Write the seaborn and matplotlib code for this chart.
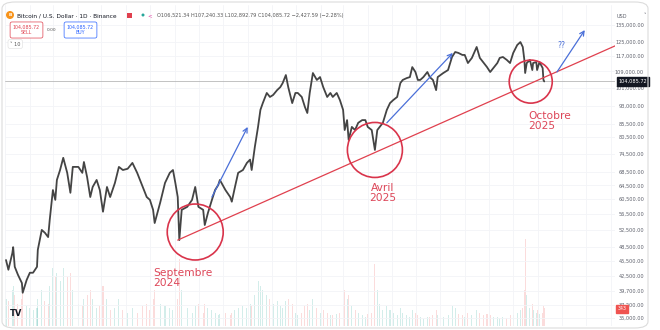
import numpy as np
import pandas as pd
import matplotlib
matplotlib.use("Agg")
import matplotlib.pyplot as plt
import matplotlib.dates as mdates
from matplotlib.patches import FancyBboxPatch, Ellipse, Rectangle
from matplotlib.ticker import NullLocator
import seaborn as sns

# ---------------- data ----------------
start_date = "2024-01-02"
day = [0, 3, 8, 9, 11, 15, 20, 21, 26, 30, 34, 39, 40, 45, 49, 53, 55, 59, 62, 64,
       68, 72, 77, 81, 84, 91, 96, 98, 102, 106, 109, 114, 118, 122, 127, 131, 137, 142, 147, 153,
       159, 165, 172, 177, 181, 185, 187, 194, 200, 206, 210, 213, 216, 218, 221, 228, 234, 238, 242, 248,
       250, 254, 259, 263, 267, 269, 276, 282, 284, 288, 292, 298, 303, 307, 309, 313, 317, 320, 323, 328,
       332, 336, 341, 345, 348, 352, 355, 360, 364, 367, 372, 376, 379, 382, 386, 391, 395, 399, 404, 408,
       411, 416, 420, 424, 426, 429, 431, 435, 439, 443, 448, 452, 455, 460, 464, 467, 470, 474, 479, 483,
       487, 492, 496, 499, 504, 508, 511, 515, 518, 521, 525, 530, 533, 537, 541, 543, 550, 556, 561, 565,
       569, 574, 577, 581, 586, 592, 596, 600, 605, 609, 613, 618, 621, 625, 630, 634, 638, 643, 647, 650,
       652, 653, 655, 659, 662, 663, 667, 668, 671, 675, 676, 677]
close = [45700, 43700, 47200, 48500, 44300, 42700, 41100, 39300, 41700, 43100, 43100, 44300, 47900, 52500, 51800, 50800, 55000, 63100, 60300, 66100,
         69200, 73200, 68300, 62300, 70200, 70200, 68300, 71800, 67000, 61100, 64000, 66100, 63100, 57100, 64000, 61100, 65200, 70200, 69200, 69600,
         71500, 68300, 64000, 61100, 60300, 57600, 54200, 59600, 65200, 68300, 69200, 65200, 61100, 50100, 57600, 58400, 60300, 64000, 58400, 57600,
         53700, 56800, 60300, 63100, 64600, 66100, 63100, 61100, 59800, 64000, 68300, 69200, 71500, 72600, 69200, 77000, 84400, 91300, 94200, 98700,
         96900, 97800, 100000, 101400, 103300, 107200, 101400, 94200, 98700, 98700, 96900, 92500, 90000, 98700, 108200, 104800, 106200, 101400, 96900, 98700,
         96900, 98700, 95500, 91300, 83200, 87100, 79500, 84400, 83200, 86000, 87100, 87100, 84400, 83200, 75900, 83200, 84400, 86000, 91300, 94200,
         95500, 96900, 103300, 104800, 105700, 106200, 111200, 108700, 104800, 104800, 106200, 108700, 106200, 104800, 100000, 106200, 108200, 109700, 116500, 119200,
         118700, 117600, 117600, 113300, 116000, 122000, 116000, 113800, 111200, 108700, 110700, 113300, 116000, 116500, 114900, 113300, 118700, 123100, 124800, 122000,
         114900, 108200, 113300, 114900, 109700, 113300, 113800, 109700, 113800, 110700, 104800, 104085.72]
volume = [30, 28, 40, 45, 35, 25, 30, 38, 22, 20, 18, 20, 30, 40, 28, 25, 45, 65, 55, 60,
          50, 65, 55, 60, 40, 25, 22, 30, 35, 40, 30, 20, 22, 45, 30, 18, 20, 30, 18, 15,
          20, 15, 22, 25, 18, 30, 40, 25, 22, 20, 18, 22, 30, 75, 40, 20, 15, 22, 25, 15,
          25, 20, 18, 15, 12, 14, 15, 12, 15, 18, 20, 22, 20, 25, 22, 35, 50, 45, 40, 35,
          30, 25, 28, 22, 20, 28, 30, 25, 15, 12, 15, 22, 25, 18, 30, 20, 15, 18, 15, 12,
          12, 14, 15, 25, 40, 30, 35, 22, 18, 15, 12, 10, 14, 15, 70, 40, 25, 18, 22, 18,
          15, 12, 20, 15, 12, 10, 18, 15, 12, 10, 8, 10, 10, 12, 18, 12, 10, 12, 22, 20,
          14, 12, 10, 15, 12, 18, 15, 12, 14, 12, 10, 10, 9, 10, 9, 12, 12, 15, 18, 20,
          40, 98, 35, 20, 25, 18, 15, 18, 14, 15, 22, 20]

price_ticks = [135000, 125000, 117000, 109000, 101000, 93000, 85500, 80500, 74500, 68500,
               64500, 60500, 56500, 52500, 48500, 45500, 42500, 39700, 37200, 35000]
last_price = 104085.72
last_volume_label = "343"

trend_days = [216, 766]
trend_prices = [50100, 122600]

circle_days = [238, 464, 660]
circle_prices = [52000, 75900, 104000]

arrow_days = [(259, 304), (479, 562), (693, 728)]
arrow_prices = [(61100, 84400), (86000, 118700), (108700, 131900)]

labels_text = ["Septembre\n2024", "Avril\n2025", "Octobre\n2025"]
label_days = [185, 474, 657]
label_prices = [44050, 65200, 90800]

title_text = "Bitcoin / U.S. Dollar · 1D · Binance"
ohlc_text = "O106,521.34 H107,240.33 L102,892.79 C104,085.72 \u22122,427.59 (\u22122.28%)"

# ---------------- style ----------------
sns.set_theme(style="white")
plt.rcParams["font.family"] = ["DejaVu Sans"]

W, H = 660, 330
fig = plt.figure(figsize=(W / 100, H / 100), dpi=100)
fig.patch.set_facecolor("white")


def fx(px):
    return px / W


def fy(py):
    return 1 - py / H


ax_left, ax_right, ax_top, ax_bottom = 5, 615, 5, 326
ax = fig.add_axes([fx(ax_left), fy(ax_bottom), fx(ax_right - ax_left), (ax_bottom - ax_top) / H])

t0 = pd.Timestamp(start_date)
df = pd.DataFrame({
    "date": t0 + pd.to_timedelta(day, unit="D"),
    "close": close,
    "volume": volume,
})
up = np.r_[True, np.diff(df["close"].values) >= 0]
vol_colors = np.where(up, "#26a69a", "#ef5350")

# volume on twin axis (behind)
ax2 = ax.twinx()
ax2.bar(df["date"], df["volume"], width=1.3, color=vol_colors, alpha=0.2, linewidth=0)
ax2.set_ylim(0, 360)
ax2.axis("off")
ax.set_zorder(ax2.get_zorder() + 1)
ax.patch.set_visible(False)

# price
sns.lineplot(data=df, x="date", y="close", ax=ax, color="#444444", linewidth=1.3)
ax.set_yscale("log")
ax.set_ylim(33720, 148040)
ax.set_xlim(t0 - pd.Timedelta(days=1.26), t0 + pd.Timedelta(days=766))
ax.set_xlabel("")
ax.set_ylabel("")
for s in ax.spines.values():
    s.set_visible(False)

ax.yaxis.set_minor_locator(NullLocator())
ax.set_yticks(price_ticks)
ax.set_yticklabels([f"{v:,.2f}" for v in price_ticks])
ax.yaxis.tick_right()
ax.tick_params(axis="y", length=0, pad=20.9, labelsize=3.6, labelcolor="#5d606b")
for lbl in ax.get_yticklabels():
    lbl.set_ha("right")
ax.xaxis.set_major_locator(mdates.MonthLocator())
ax.tick_params(axis="x", length=0, labelbottom=False)
ax.grid(True, color="#f3f4f7", linewidth=0.6)
ax.set_axisbelow(True)

# last price line & label
ax.axhline(last_price, color="#b8b8b8", linewidth=0.6, zorder=1)
ax.annotate(f"{last_price:,.2f}", xy=(1, last_price), xycoords=("axes fraction", "data"),
            xytext=(2.5, 0), textcoords="offset points", ha="left", va="center",
            fontsize=3.6, color="white", annotation_clip=False, zorder=10,
            bbox=dict(boxstyle="square,pad=0.35", fc="#131722", ec="#131722"))

# trend line
trend_dates = t0 + pd.to_timedelta(trend_days, unit="D")
ax.plot(trend_dates, trend_prices, color="#e0404e", linewidth=0.9, zorder=4)

# circles (sizes in points^2)
circle_dates = t0 + pd.to_timedelta(circle_days, unit="D")
ax.scatter(circle_dates, circle_prices, s=[1624, 1568, 960], facecolors="none",
           edgecolors="#d9344b", linewidths=1.2, zorder=5)

# arrows
for (d0, d1), (p0, p1) in zip(arrow_days, arrow_prices):
    ax.annotate("", xy=(t0 + pd.Timedelta(days=d1), p1), xytext=(t0 + pd.Timedelta(days=d0), p0),
                arrowprops=dict(arrowstyle="->", color="#4a6fd8", lw=0.9, mutation_scale=8,
                                shrinkA=0, shrinkB=0), zorder=6)
ax.text(t0 + pd.Timedelta(days=694), 123100, "??", fontsize=5.5, color="#4a6fd8",
        ha="left", va="center")

# labels
aligns = ["left", "center", "left"]
for txt, d, p, a in zip(labels_text, label_days, label_prices, aligns):
    ax.text(t0 + pd.Timedelta(days=d), p, txt, fontsize=7.7, color="#dd4658",
            ha=a, va="top", multialignment=a, linespacing=1.0, zorder=7)

# ---------------- header / chrome ----------------
fig.patches.append(FancyBboxPatch((fx(2), fy(328)), fx(646), (326) / H,
                                  boxstyle="round,pad=0,rounding_size=0.02",
                                  transform=fig.transFigure, fc="none", ec="#dcdcdc", lw=0.8))
fig.patches.append(Ellipse((fx(10), fy(15)), fx(8), 8 / H, transform=fig.transFigure,
                           fc="#f7931a", ec="none"))
fig.text(fx(10), fy(15), "B", fontsize=3.2, color="white", ha="center", va="center", weight="bold")
fig.text(fx(17), fy(15.5), title_text, fontsize=4.2, color="#131722", ha="left", va="center")
fig.patches.append(Rectangle((fx(127), fy(18)), fx(5), 5 / H, transform=fig.transFigure,
                             fc="#e0404e", ec="none"))
fig.patches.append(Ellipse((fx(143), fy(15)), fx(3), 3 / H, transform=fig.transFigure,
                           fc="#26a69a", ec="none"))
fig.text(fx(150), fy(15.5), "<", fontsize=4, color="#e040a0", ha="center", va="center")
fig.text(fx(157), fy(15.5), ohlc_text, fontsize=3.6, color="#555555", ha="left", va="center")

fig.text(fx(26.5), fy(30), f"{last_price:,.2f}\nSELL", fontsize=3.4, color="#e0404e",
         ha="center", va="center", linespacing=1.1,
         bbox=dict(boxstyle="round,pad=0.6,rounding_size=0.4", fc="white", ec="#e0404e", lw=0.5))
fig.text(fx(52), fy(30), "0.00", fontsize=3.2, color="#555555", ha="center", va="center")
fig.text(fx(80.5), fy(30), f"{last_price:,.2f}\nBUY", fontsize=3.4, color="#2962ff",
         ha="center", va="center", linespacing=1.1,
         bbox=dict(boxstyle="round,pad=0.6,rounding_size=0.4", fc="white", ec="#2962ff", lw=0.5))
fig.text(fx(10), fy(44), "\u02c5 10", fontsize=3.6, color="#555555", ha="left", va="center",
         bbox=dict(boxstyle="round,pad=0.4", fc="white", ec="#dddddd", lw=0.4))

fig.text(fx(617), fy(16), "USD", fontsize=3.6, color="#5d606b", ha="left", va="center")
fig.text(fx(645), fy(16), "\u02c5", fontsize=3.6, color="#5d606b", ha="center", va="center")
fig.text(fx(622), fy(309), last_volume_label, fontsize=3.4, color="white", ha="center", va="center",
         bbox=dict(boxstyle="square,pad=0.3", fc="#ef5350", ec="#ef5350"))
fig.text(fx(10), fy(313), "TV", fontsize=6, color="#131722", ha="left", va="center", weight="bold")

fig.savefig("out.png", dpi=100, facecolor="white")
